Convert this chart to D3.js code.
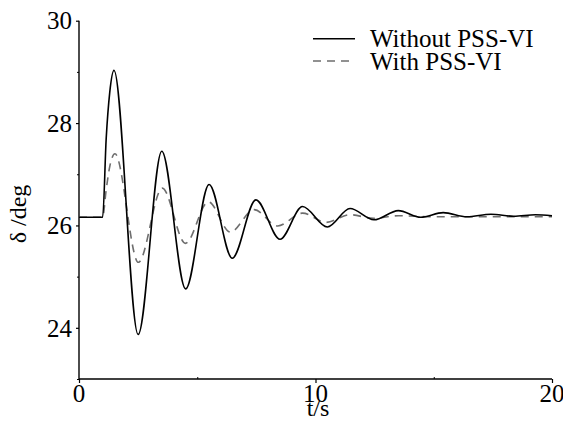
<!DOCTYPE html>
<html>
<head>
<meta charset="utf-8">
<script src="https://cdn.jsdelivr.net/npm/d3@7"></script>
<style>
  body { margin: 0; background: #fff; }
  text { font-family: "Liberation Serif", "Times New Roman", serif; fill: #000; }
</style>
</head>
<body>
<div id="chart"></div>
<script>
// Rotor angle response (t in s, delta in deg)
const withoutT = [0, 1.0, 1.15, 1.3, 1.48, 2.5, 3.5, 4.51, 5.5, 6.48, 7.48, 8.5, 9.45, 10.5, 11.46, 12.47, 13.5, 14.45, 15.4, 16.4, 17.42, 18.38, 19.3, 20];
const withoutV = [26.16, 26.16, 27.7, 28.6, 29.03, 23.87, 27.45, 24.76, 26.80, 25.36, 26.50, 25.73, 26.37, 25.97, 26.33, 26.11, 26.29, 26.16, 26.25, 26.17, 26.22, 26.18, 26.21, 26.19];

const withT = [0, 1.0, 1.15, 1.3, 1.52, 2.51, 3.52, 4.5, 5.47, 6.4, 7.4, 8.4, 9.45, 10.45, 11.45, 12.45, 13.5, 15, 20];
const withV = [26.16, 26.16, 26.7, 27.15, 27.40, 25.28, 26.73, 25.65, 26.46, 25.87, 26.31, 25.99, 26.24, 26.06, 26.21, 26.14, 26.19, 26.17, 26.17];

const yMajor = [24, 26, 28, 30];
const yMinor = [23, 25, 27, 29];
const xMajor = [0, 10, 20];
const xMinor = [5, 15];

const seriesNames = ["Without PSS-VI", "With PSS-VI"];

const width = 563, height = 423;
const margin = { top: 20.7, right: 11, bottom: 44, left: 79 };

const svg = d3.select("#chart").append("svg")
    .attr("width", width)
    .attr("height", height);

const x = d3.scaleLinear().domain([0, 20]).range([margin.left, width - margin.right]);
const y = d3.scaleLinear().domain([23, 30]).range([height - margin.bottom, margin.top]);

// ---- y axis: majors labelled, minors plain ----
const yAxis = svg.append("g").attr("transform", `translate(${margin.left},0)`)
    .call(d3.axisLeft(y).tickValues(yMajor).tickSize(3).tickFormat(""));
yAxis.select(".domain").attr("stroke-width", 1.4).attr("d", `M0,${y(23)}V${y(30)}`);
yAxis.selectAll(".tick line").attr("stroke-width", 1.2);

svg.append("g").attr("transform", `translate(${margin.left},0)`)
    .call(d3.axisLeft(y).tickValues(yMinor).tickSize(2).tickFormat(""))
    .call(g => g.select(".domain").remove());

svg.append("g").selectAll("text")
    .data(yMajor)
    .enter()
    .append("text")
    .attr("x", margin.left - 7)
    .attr("y", d => y(d))
    .attr("dy", "0.35em")
    .attr("text-anchor", "end")
    .style("font-size", "25px")
    .text(d => d);

// ---- x axis: majors point down, minors point up ----
const xAxis = svg.append("g").attr("transform", `translate(0,${y(23)})`)
    .call(d3.axisBottom(x).tickValues(xMajor).tickSize(4).tickFormat(""));
xAxis.select(".domain").attr("stroke-width", 1.4).attr("d", `M${x(0)},0H${x(20)}`);
xAxis.selectAll(".tick line").attr("stroke-width", 1.2);

svg.append("g").attr("transform", `translate(0,${y(23)})`)
    .call(d3.axisBottom(x).tickValues(xMinor).tickSize(-2).tickFormat(""))
    .call(g => g.select(".domain").remove());

svg.append("g").selectAll("text")
    .data(xMajor)
    .enter()
    .append("text")
    .attr("x", d => x(d))
    .attr("y", 402)
    .attr("text-anchor", "middle")
    .style("font-size", "25px")
    .text(d => d);

svg.append("text")
    .attr("x", 318)
    .attr("y", 416)
    .attr("text-anchor", "middle")
    .style("font-size", "24px")
    .text("t/s");

svg.append("text")
    .attr("transform", "translate(26,214) rotate(-90)")
    .attr("text-anchor", "middle")
    .style("font-size", "24px")
    .text("δ /deg");

// ---- curves ----
const line = d3.line()
    .x(d => x(d[0]))
    .y(d => y(d[1]))
    .curve(d3.curveMonotoneX);

const withoutData = withoutT.map((t, i) => [t, withoutV[i]]);
const withData = withT.map((t, i) => [t, withV[i]]);

svg.append("path")
    .datum(withData)
    .attr("d", line)
    .attr("fill", "none")
    .attr("stroke", "#6e6e6e")
    .attr("stroke-width", 1.6)
    .attr("stroke-dasharray", "8,6");

svg.append("path")
    .datum(withoutData)
    .attr("d", line)
    .attr("fill", "none")
    .attr("stroke", "#000")
    .attr("stroke-width", 1.6);

// ---- legend ----
const legend = svg.append("g").attr("transform", "translate(313,0)");
const legendRows = [
    { name: seriesNames[0], ly: 38.7, ty: 47, stroke: "#000", dash: null },
    { name: seriesNames[1], ly: 61, ty: 70, stroke: "#6e6e6e", dash: "8,6" }
];
legendRows.forEach(r => {
    legend.append("line")
        .attr("x1", 0).attr("x2", 42)
        .attr("y1", r.ly).attr("y2", r.ly)
        .attr("stroke", r.stroke)
        .attr("stroke-width", 1.4)
        .attr("stroke-dasharray", r.dash);
    legend.append("text")
        .attr("x", 57)
        .attr("y", r.ty)
        .style("font-size", "25px")
        .text(r.name);
});
</script>
</body>
</html>
